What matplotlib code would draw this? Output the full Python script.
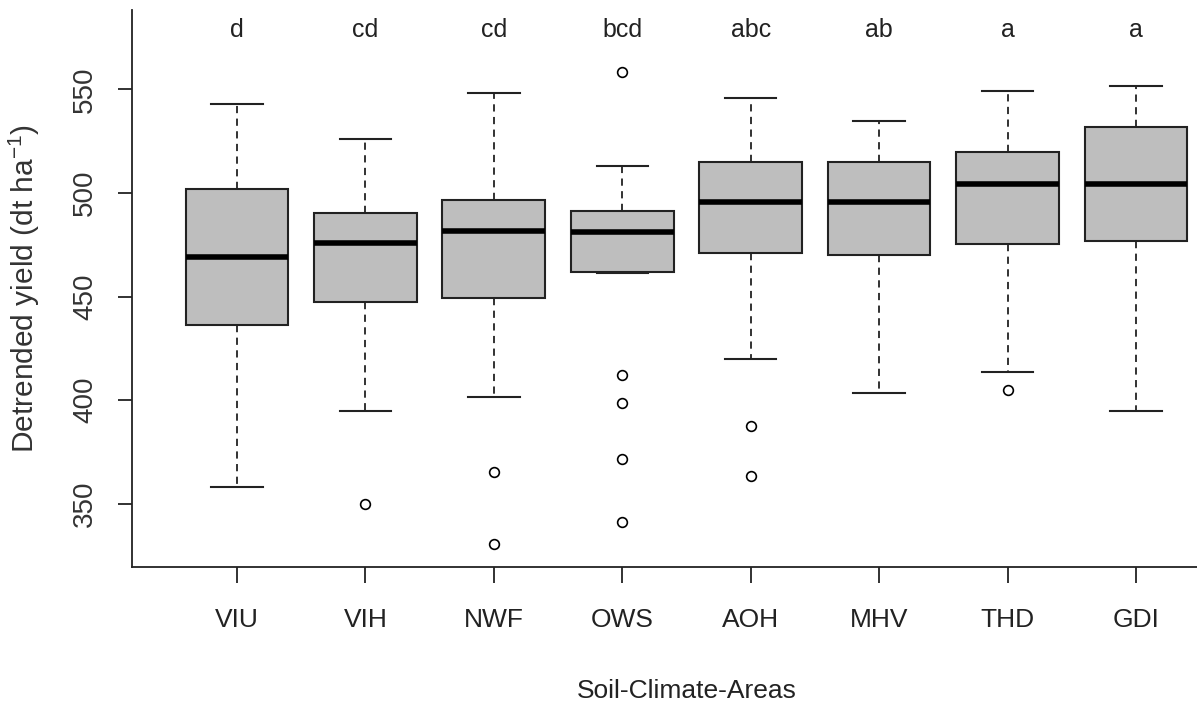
import matplotlib
matplotlib.use("Agg")
import matplotlib.pyplot as plt

# Soil-climate areas and their box statistics
areas = ["VIU", "VIH", "NWF", "OWS", "AOH", "MHV", "THD", "GDI"]
letters = ["d", "cd", "cd", "bcd", "abc", "ab", "a", "a"]
whisker_low = [357.9, 394.7, 401.6, 461.5, 419.8, 403.3, 413.7, 394.7]
q1 = [436.2, 447.5, 449.1, 462.0, 470.8, 470.0, 475.2, 476.6]
medians = [469.1, 475.8, 481.8, 481.0, 495.8, 495.8, 504.3, 504.3]
q3 = [501.9, 490.4, 496.6, 491.3, 514.8, 514.8, 519.9, 531.8]
whisker_high = [543.2, 525.9, 548.4, 512.8, 545.7, 534.6, 549.2, 551.7]
outliers = [
    [],
    [349.9],
    [365.2, 330.4],
    [558.5, 412.0, 398.5, 371.4, 341.3],
    [387.6, 363.5],
    [],
    [404.9],
    [],
]

plt.rcParams["font.family"] = ["Liberation Sans", "DejaVu Sans"]
plt.rcParams["mathtext.default"] = "regular"

fig = plt.figure(figsize=(11.97, 7.01), dpi=100)
# plot region runs past the right edge of the picture, as in the original
ax = fig.add_axes([0.110, 0.1916, 0.927, 0.794])

stats = []
for i in range(len(areas)):
    stats.append({
        "label": areas[i],
        "whislo": whisker_low[i],
        "q1": q1[i],
        "med": medians[i],
        "q3": q3[i],
        "whishi": whisker_high[i],
        "fliers": outliers[i],
    })

positions = list(range(1, len(areas) + 1))
ax.bxp(
    stats,
    positions=positions,
    widths=0.8,
    capwidths=0.4,
    patch_artist=True,
    showfliers=True,
    boxprops=dict(facecolor="#bebebe", edgecolor="#222222", linewidth=1.5),
    medianprops=dict(color="black", linewidth=4),
    whiskerprops=dict(color="#222222", linewidth=1.3, linestyle=(0, (4, 3))),
    capprops=dict(color="#222222", linewidth=1.5),
    flierprops=dict(marker="o", markerfacecolor="none", markeredgecolor="black",
                    markersize=7, markeredgewidth=1.2),
)

for pos, txt in zip(positions, letters):
    ax.text(pos, 578.6, txt, ha="center", va="center", fontsize=18, color="#222222")

ax.set_xlim(0.18, 8.82)
ax.set_ylim(319.6, 588.3)
ax.set_yticks([350, 400, 450, 500, 550])
ax.set_xticks(positions)
ax.set_xticklabels(areas)

for side in ["top", "right"]:
    ax.spines[side].set_visible(False)
for side in ["left", "bottom"]:
    ax.spines[side].set_linewidth(1.3)
    ax.spines[side].set_color("#222222")

ax.tick_params(axis="y", length=10, width=1.3, color="#222222", pad=14,
               labelsize=20, labelrotation=90, labelcolor="#333333")
ax.tick_params(axis="x", length=11.5, width=1.3, color="#222222", pad=18,
               labelsize=19, labelcolor="#222222")
for lab in ax.get_yticklabels():
    lab.set_va("center")

ax.set_xlabel("Soil-Climate-Areas", fontsize=19, labelpad=34, color="#222222")
ax.set_ylabel("Detrended yield (dt ha$^{-1}$)", fontsize=21.5, labelpad=22,
              color="#333333")

fig.savefig("out.png", dpi=100)
